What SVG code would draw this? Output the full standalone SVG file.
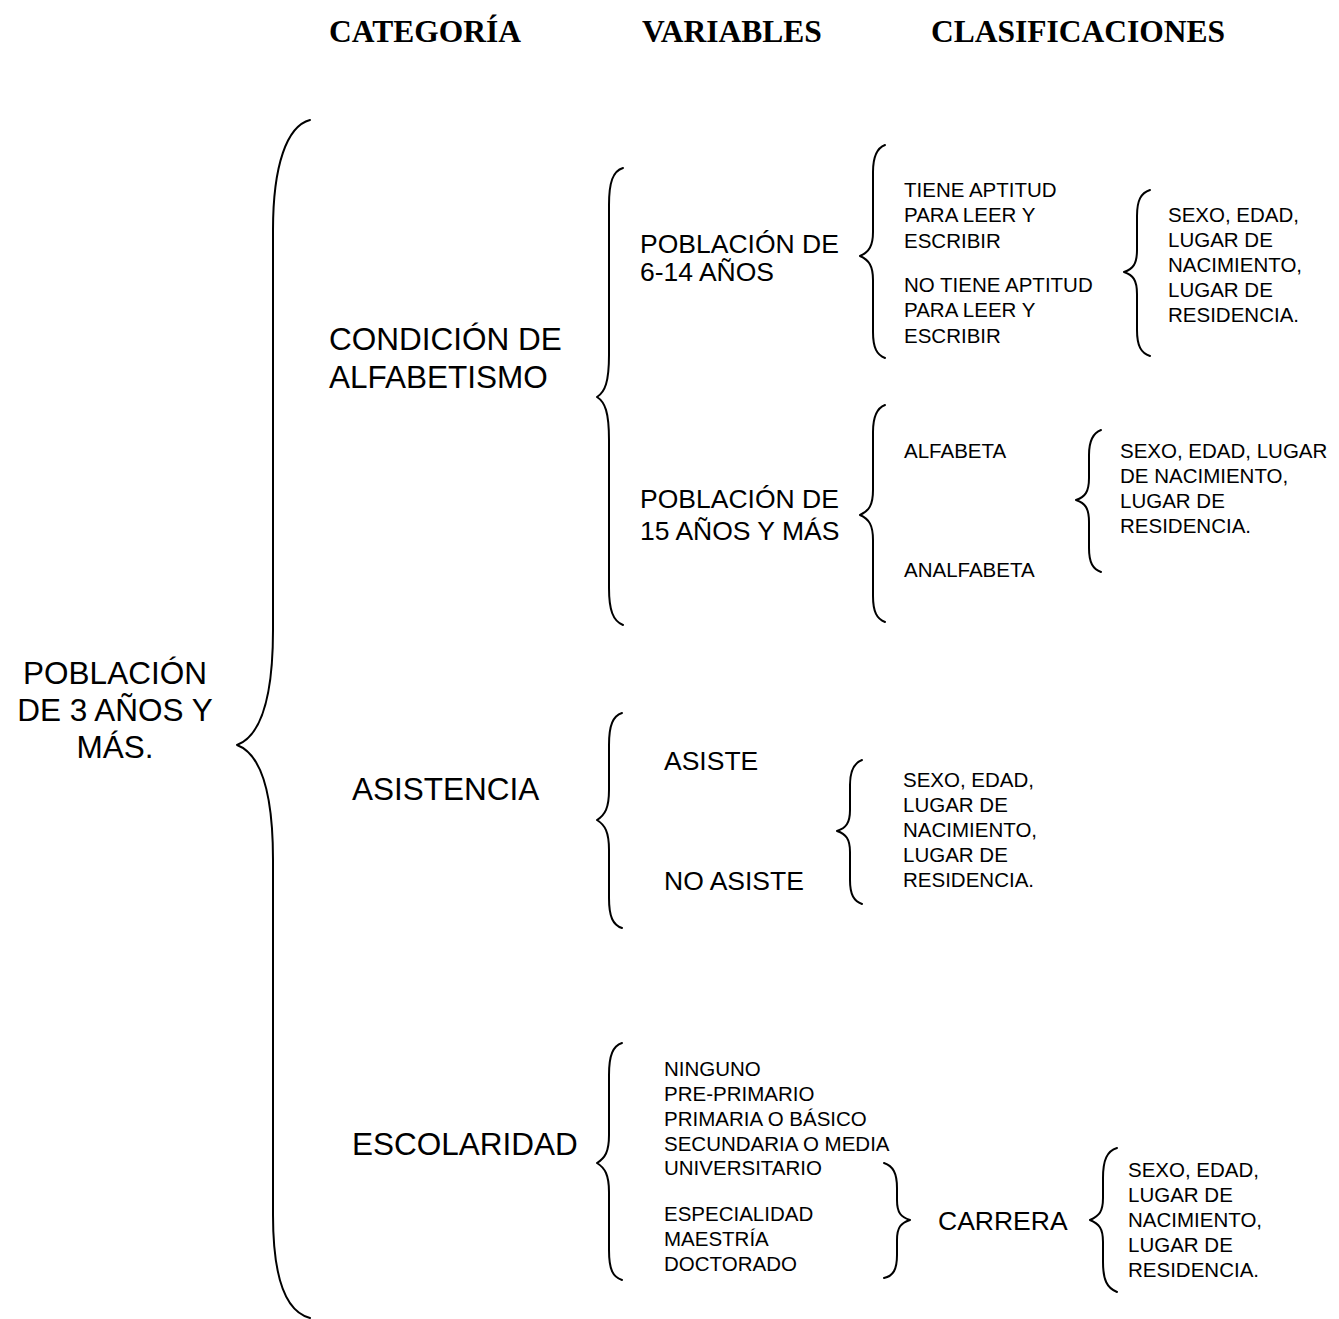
<svg xmlns="http://www.w3.org/2000/svg" width="1339" height="1319" viewBox="0 0 1339 1319">
<style>
.h{font-family:"Liberation Serif","Times New Roman",serif;font-weight:bold;font-size:31.5px;fill:#000}
.l{font-family:"Liberation Sans",Arial,sans-serif;font-size:31.5px;fill:#000}
.m{font-family:"Liberation Sans",Arial,sans-serif;font-size:26.5px;fill:#000}
.s{font-family:"Liberation Sans",Arial,sans-serif;font-size:20.5px;fill:#000}
.b{fill:none;stroke:#000;stroke-width:2;stroke-linecap:round;stroke-linejoin:round}
</style>
<rect width="1339" height="1319" fill="#fff"/>
<g id="headers">
<text class="h" x="329" y="42">CATEGORÍA</text>
<text class="h" x="642" y="42">VARIABLES</text>
<text class="h" x="931" y="42">CLASIFICACIONES</text>
</g>
<g id="connectors">
<path class="b" stroke-width="2.4" d="M310,120 C287,126 273,165 273,230 L273,630 C273,705 258,737 237,745 C258,753 273,785 273,860 L273,1215 C273,1280 287,1312 310,1318"/>
<path class="b" d="M623,168 C613,171 609,182 609,205 L609,355 C609,382 605,392 597,397 C605,402 609,412 609,440 L609,588 C609,610 613,621 623,625"/>
<path class="b" d="M885,145 C877,148 873,156 873,172 L873,232 C873,246 869,252 860,256 C869,260 873,266 873,280 L873,332 C873,348 877,355 885,358"/>
<path class="b" d="M1150,190 C1141,193 1137,200 1137,216 L1137,250 C1137,264 1133,269 1124,272 C1133,275 1137,280 1137,294 L1137,330 C1137,346 1141,353 1150,356"/>
<path class="b" d="M885,405 C877,408 873,416 873,432 L873,490 C873,505 869,511 860,515 C869,519 873,525 873,540 L873,596 C873,612 877,619 885,622"/>
<path class="b" d="M1101,430 C1093,433 1089,440 1089,455 L1089,478 C1089,492 1085,497 1076,500 C1085,503 1089,508 1089,522 L1089,548 C1089,563 1093,569 1101,572"/>
<path class="b" d="M622,713 C613,716 609,725 609,745 L609,790 C609,808 605,815 597,820 C605,825 609,832 609,850 L609,898 C609,917 613,925 622,928"/>
<path class="b" d="M862,760 C854,763 850,770 850,785 L850,810 C850,823 846,828 837,831 C846,834 850,839 850,852 L850,880 C850,895 854,901 862,904"/>
<path class="b" d="M622,1043 C613,1046 609,1055 609,1075 L609,1135 C609,1152 605,1158 597,1163 C605,1168 609,1175 609,1192 L609,1250 C609,1270 613,1277 622,1280"/>
<path class="b" d="M884,1163 C893,1166 897,1173 897,1188 L897,1200 C897,1213 901,1217 910,1220 C901,1223 897,1227 897,1240 L897,1255 C897,1270 893,1276 884,1278"/>
<path class="b" d="M1117,1148 C1107,1151 1103,1160 1103,1178 L1103,1198 C1103,1212 1099,1216 1090,1220 C1099,1224 1103,1228 1103,1242 L1103,1262 C1103,1280 1107,1288 1117,1292"/>
</g>
<g id="root">
<text class="l" x="115" y="684" text-anchor="middle">POBLACIÓN</text>
<text class="l" x="115" y="721" text-anchor="middle">DE 3 AÑOS Y</text>
<text class="l" x="115" y="758" text-anchor="middle">MÁS.</text>
</g>
<g id="condicion">
<text class="l" x="329" y="350">CONDICIÓN DE</text>
<text class="l" x="329" y="388">ALFABETISMO</text>
</g>
<g id="asistencia"><text class="l" x="352" y="800">ASISTENCIA</text></g>
<g id="escolaridad"><text class="l" x="352" y="1155">ESCOLARIDAD</text></g>
<g id="pob614">
<text class="m" x="640" y="253">POBLACIÓN DE</text>
<text class="m" x="640" y="281">6-14 AÑOS</text>
</g>
<g id="pob15">
<text class="m" x="640" y="508">POBLACIÓN DE</text>
<text class="m" x="640" y="540">15 AÑOS Y MÁS</text>
</g>
<g id="tiene">
<text class="s" x="904" y="197">TIENE APTITUD</text>
<text class="s" x="904" y="222">PARA LEER Y</text>
<text class="s" x="904" y="248">ESCRIBIR</text>
</g>
<g id="notiene">
<text class="s" x="904" y="292">NO TIENE APTITUD</text>
<text class="s" x="904" y="317">PARA LEER Y</text>
<text class="s" x="904" y="343">ESCRIBIR</text>
</g>
<g id="clas1">
<text class="s" x="1168" y="222">SEXO, EDAD,</text>
<text class="s" x="1168" y="247">LUGAR DE</text>
<text class="s" x="1168" y="272">NACIMIENTO,</text>
<text class="s" x="1168" y="297">LUGAR DE</text>
<text class="s" x="1168" y="322">RESIDENCIA.</text>
</g>
<g id="alfabeta"><text class="s" x="904" y="458">ALFABETA</text></g>
<g id="analfabeta"><text class="s" x="904" y="577">ANALFABETA</text></g>
<g id="clas2">
<text class="s" x="1120" y="458">SEXO, EDAD, LUGAR</text>
<text class="s" x="1120" y="483">DE NACIMIENTO,</text>
<text class="s" x="1120" y="508">LUGAR DE</text>
<text class="s" x="1120" y="533">RESIDENCIA.</text>
</g>
<g id="asiste"><text class="m" x="664" y="770">ASISTE</text></g>
<g id="noasiste"><text class="m" x="664" y="890">NO ASISTE</text></g>
<g id="clas3">
<text class="s" x="903" y="787">SEXO, EDAD,</text>
<text class="s" x="903" y="812">LUGAR DE</text>
<text class="s" x="903" y="837">NACIMIENTO,</text>
<text class="s" x="903" y="862">LUGAR DE</text>
<text class="s" x="903" y="887">RESIDENCIA.</text>
</g>
<g id="niveles">
<text class="s" x="664" y="1076">NINGUNO</text>
<text class="s" x="664" y="1101">PRE-PRIMARIO</text>
<text class="s" x="664" y="1126">PRIMARIA O BÁSICO</text>
<text class="s" x="664" y="1151">SECUNDARIA O MEDIA</text>
<text class="s" x="664" y="1175">UNIVERSITARIO</text>
</g>
<g id="posgrado">
<text class="s" x="664" y="1221">ESPECIALIDAD</text>
<text class="s" x="664" y="1246">MAESTRÍA</text>
<text class="s" x="664" y="1271">DOCTORADO</text>
</g>
<g id="carrera"><text class="m" x="938" y="1230">CARRERA</text></g>
<g id="clas4">
<text class="s" x="1128" y="1177">SEXO, EDAD,</text>
<text class="s" x="1128" y="1202">LUGAR DE</text>
<text class="s" x="1128" y="1227">NACIMIENTO,</text>
<text class="s" x="1128" y="1252">LUGAR DE</text>
<text class="s" x="1128" y="1277">RESIDENCIA.</text>
</g>
</svg>
